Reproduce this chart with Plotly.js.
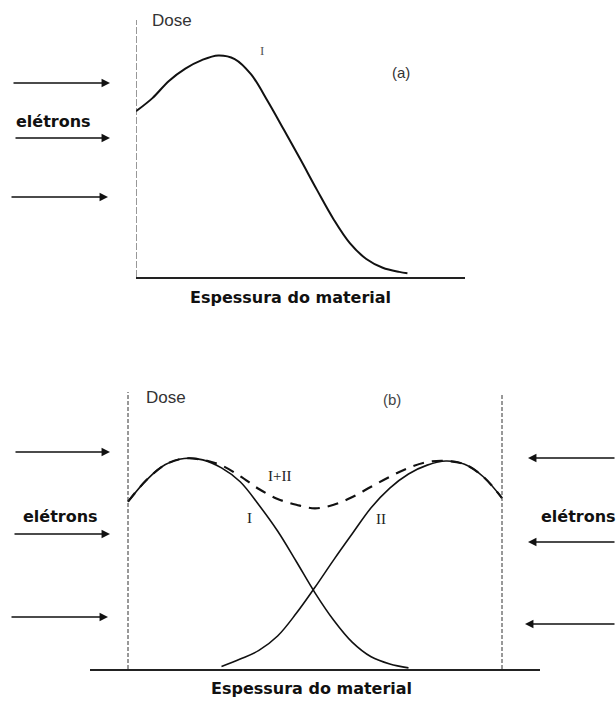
<!DOCTYPE html>
<html>
<head>
<meta charset="utf-8">
<script src="https://cdn.plot.ly/plotly-3.0.1.min.js"></script>
<style>
  html, body { margin: 0; padding: 0; background: #fff; }
  #chart { width: 616px; height: 704px; }
</style>
</head>
<body>
<div id="chart"></div>
<script>
// (a) single beam: depth-dose curve I (arbitrary thickness / dose units)
const depthA = [0, 0.5, 1, 1.5, 2, 2.5, 3, 3.5, 4, 4.5, 5, 5.5, 6, 6.5, 7, 7.5, 8, 8.25];
const doseA  = [64.5, 69.6, 76.3, 81.1, 84.4, 86.2, 84.8, 78.8, 68.5, 57.2, 45.7, 33.9, 22.6, 13.2, 7.0, 3.6, 2.0, 1.5];

// (b) two opposed beams through a slab of thickness 10
const depthI  = [0, 0.5, 1, 1.5, 2, 2.5, 3, 3.5, 4, 4.5, 5, 5.5, 6, 6.5, 7, 7.5];
const doseI   = [60.4, 68.3, 73.8, 76.0, 75.5, 72.6, 67.6, 59.2, 49.8, 38.8, 27.5, 17.6, 9.6, 4.4, 1.8, 0.4];
const depthII = [2.5, 3, 3.5, 4, 4.5, 5, 5.5, 6, 6.5, 7, 7.5, 8, 8.5, 9, 9.5, 10];
const doseII  = [0.9, 3.6, 6.7, 11.9, 20.1, 29.5, 39.4, 48.9, 58.2, 65.3, 70.4, 73.6, 75.1, 73.9, 69.4, 61.7];
const depthSum = [0, 0.5, 1, 1.5, 2, 2.5, 3, 3.5, 4, 4.5, 5, 5.5, 6, 6.5, 7, 7.5, 8, 8.5, 9, 9.5, 10];
const doseSum  = [60.4, 68.3, 73.8, 76.0, 75.5, 73.5, 69.6, 65.0, 61.4, 59.3, 58.0, 59.3, 62.1, 65.8, 69.4, 72.6, 74.7, 75.1, 73.9, 69.4, 61.7];

// text labels
const beamLabel = 'elétrons';
const axisLabel = 'Espessura do material';
const doseLabel = 'Dose';
const curveNames = ['I', 'II', 'I+II'];
const panelTags = ['(a)', '(b)'];

const W = 616, H = 704;
const px = v => v / W;          // paper x from pixel column
const py = v => 1 - v / H;      // paper y from pixel row

const ink = '#111';
const traces = [
  { x: depthA, y: doseA, xaxis: 'x', yaxis: 'y', mode: 'lines',
    line: { color: ink, width: 2, shape: 'spline' }, hoverinfo: 'skip' },
  { x: depthI, y: doseI, xaxis: 'x2', yaxis: 'y2', mode: 'lines',
    line: { color: ink, width: 1.6, shape: 'spline' }, hoverinfo: 'skip' },
  { x: depthII, y: doseII, xaxis: 'x2', yaxis: 'y2', mode: 'lines',
    line: { color: ink, width: 1.6, shape: 'spline' }, hoverinfo: 'skip' },
  { x: depthSum, y: doseSum, xaxis: 'x2', yaxis: 'y2', mode: 'lines',
    line: { color: ink, width: 2.2, shape: 'spline', dash: '11px,8px' }, hoverinfo: 'skip' }
];

const bare = {
  showgrid: false, zeroline: false, showticklabels: false, ticks: '',
  fixedrange: true
};

// incoming beam arrows (head position, tail offset in px)
function arrow(headX, headY, dx) {
  return {
    xref: 'paper', yref: 'paper', x: px(headX), y: py(headY),
    axref: 'pixel', ayref: 'pixel', ax: dx, ay: 0,
    text: '', showarrow: true, arrowhead: 2, arrowsize: 1.3, arrowwidth: 1.3,
    arrowcolor: ink, standoff: 0, startstandoff: 0
  };
}
function label(text, x, y, font) {
  return { xref: 'paper', yref: 'paper', x: px(x), y: py(y), text: text,
    showarrow: false, xanchor: 'center', yanchor: 'middle', font: font };
}
const boldFont = { family: 'DejaVu Sans', size: 16, color: ink, weight: 'bold' };
const doseFont = { family: 'Liberation Sans', size: 17, color: '#333' };
const romanFont = { family: 'Liberation Serif', size: 15, color: '#222' };

const annotations = [
  arrow(110, 83, -98), arrow(110, 138, -96), arrow(108, 197, -98),
  arrow(110, 452, -96), arrow(110, 534, -97), arrow(108, 617, -98),
  arrow(528, 458, 92), arrow(528, 542, 92), arrow(525, 624, 95),
  label('<b>' + beamLabel + '</b>', 53, 121, boldFont),
  label('<b>' + beamLabel + '</b>', 60, 516, boldFont),
  label('<b>' + beamLabel + '</b>', 578, 516, boldFont),
  label('<b>' + axisLabel + '</b>', 290, 297, boldFont),
  label('<b>' + axisLabel + '</b>', 311, 688, boldFont),
  label(doseLabel, 172, 20, doseFont),
  label(doseLabel, 166, 397, doseFont),
  label(curveNames[0], 262, 50, { family: 'Liberation Serif', size: 13, color: '#555' }),
  label(panelTags[0], 401, 72, { family: 'Liberation Sans', size: 15, color: '#333' }),
  label(panelTags[1], 392, 399, { family: 'Liberation Sans', size: 15, color: '#444' }),
  label(curveNames[0], 249, 518, romanFont),
  label(curveNames[1], 381, 519, romanFont),
  label(curveNames[2], 279, 476, romanFont)
];

// material boundaries (thin broken rules)
const shapes = [
  { type: 'line', xref: 'x', yref: 'y domain', x0: 0, x1: 0, y0: 0, y1: 1,
    line: { color: '#333', width: 1, dash: '7px,2px' } },
  { type: 'line', xref: 'x2', yref: 'y2 domain', x0: 0, x1: 0, y0: 0, y1: 1,
    line: { color: '#333', width: 1, dash: '4px,2px' } },
  { type: 'line', xref: 'x2', yref: 'y2 domain', x0: 10, x1: 10, y0: 0, y1: 0.99,
    line: { color: '#333', width: 1, dash: '4px,2px' } }
];

const layout = {
  width: W, height: H,
  margin: { l: 0, r: 0, t: 0, b: 0 },
  paper_bgcolor: '#fff', plot_bgcolor: 'rgba(0,0,0,0)',
  showlegend: false,
  xaxis: Object.assign({}, bare, { domain: [px(136), px(465)], range: [0, 10],
    showline: true, linecolor: '#222', linewidth: 1.5, anchor: 'y' }),
  yaxis: Object.assign({}, bare, { domain: [py(277), py(20)], range: [0, 100],
    showline: false, anchor: 'x' }),
  xaxis2: Object.assign({}, bare, { domain: [px(90), px(540)], range: [-1.016, 11.016],
    showline: true, linecolor: '#222', linewidth: 1.5, anchor: 'y2' }),
  yaxis2: Object.assign({}, bare, { domain: [py(669), py(392)], range: [0, 100],
    showline: false, anchor: 'x2' }),
  annotations: annotations,
  shapes: shapes
};

Plotly.newPlot('chart', traces, layout, { staticPlot: true, displayModeBar: false });
</script>
</body>
</html>
